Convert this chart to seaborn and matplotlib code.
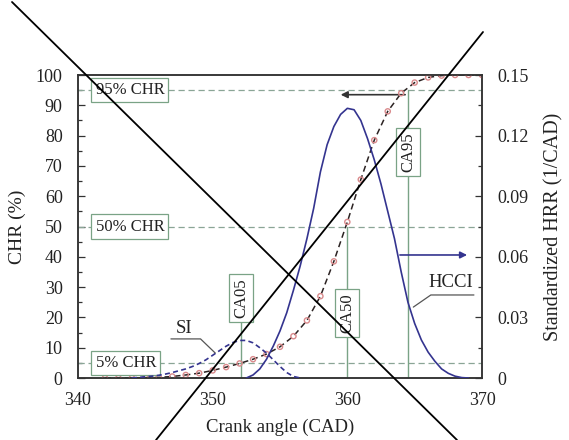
import matplotlib
matplotlib.use("Agg")
import matplotlib.pyplot as plt
from matplotlib.lines import Line2D
from matplotlib.ticker import MultipleLocator
import pandas as pd
import seaborn as sns

# ---------------- data ----------------
chr_angle = [342, 343, 344, 345, 346, 347, 348, 349, 350, 351, 352, 353, 354, 355,
             356, 357, 358, 359, 360, 361, 362, 363, 364, 365, 366, 367, 368, 369, 370]
chr_pct = [0, 0, 0, 0.1, 0.2, 0.5, 1.0, 1.6, 2.5, 3.6, 4.8, 6.2, 7.9, 10.3,
           13.8, 19.0, 27.0, 38.5, 51.5, 65.5, 78.5, 88.0, 94.0, 97.5, 99.2, 99.8, 100, 100, 100]

hcci_angle = [352.5, 353.0, 353.5, 354.0, 354.5, 355.0, 355.5, 356.0, 356.5, 357.0, 357.5,
              358.0, 358.5, 359.0, 359.5, 360.0, 360.5, 361.0, 361.5, 362.0, 362.5, 363.0,
              363.5, 364.0, 364.5, 365.0, 365.5, 366.0, 366.5, 367.0, 367.5, 368.0, 368.5, 369.0]
hcci_hrr = [0.0, 0.0015, 0.0045, 0.0093, 0.0158, 0.0233, 0.0323, 0.0435, 0.0555, 0.0690, 0.0840,
            0.1020, 0.1155, 0.1245, 0.1305, 0.1335, 0.1328, 0.1275, 0.1185, 0.1080, 0.0960, 0.0825,
            0.0690, 0.0525, 0.0375, 0.0270, 0.0188, 0.0128, 0.0083, 0.0045, 0.0023, 0.0009, 0.0002, 0.0]

si_angle = [344.0, 344.5, 345.0, 345.5, 346.0, 346.5, 347.0, 347.5, 348.0, 348.5, 349.0, 349.5,
            350.0, 350.5, 351.0, 351.5, 352.0, 352.5, 353.0, 353.5, 354.0, 354.5, 355.0, 355.5,
            356.0, 356.5]
si_hrr = [0.0, 0.0003, 0.0006, 0.0009, 0.00135, 0.00195, 0.0027, 0.0036, 0.0045, 0.0057, 0.0072,
          0.0090, 0.01125, 0.0135, 0.01575, 0.01755, 0.0186, 0.0186, 0.0174, 0.0150, 0.0123,
          0.0090, 0.0057, 0.0027, 0.00075, 0.0]

chr_levels = [5, 50, 95]
chr_level_labels = ["5% CHR", "50% CHR", "95% CHR"]
ca_values = [352.1, 360.0, 364.5]
ca_labels = ["CA05", "CA50", "CA95"]

x_ticks = [340, 350, 360, 370]
y_ticks = [0, 10, 20, 30, 40, 50, 60, 70, 80, 90, 100]
y2_ticks = [0, 0.03, 0.06, 0.09, 0.12, 0.15]
y2_tick_labels = ["0", "0.03", "0.06", "0.09", "0.12", "0.15"]

# ---------------- style ----------------
sns.set_theme(style="white")
plt.rcParams["font.family"] = ["Liberation Serif", "DejaVu Serif"]
plt.rcParams["mathtext.fontset"] = "stix"

navy = "#34348f"
guide = "#8aa596"
frame = "#333333"
txt = "#222222"

fig = plt.figure(figsize=(5.69, 4.40), dpi=100)
ax = fig.add_axes([78 / 569, 1 - 378 / 440, (482 - 78) / 569, (378 - 75) / 440])
ax2 = ax.twinx()

df_chr = pd.DataFrame({"ca": chr_angle, "chr": chr_pct})
df_hcci = pd.DataFrame({"ca": hcci_angle, "hrr": hcci_hrr})
df_si = pd.DataFrame({"ca": si_angle, "hrr": si_hrr})

# guide lines
for lvl in chr_levels:
    ax.axhline(lvl, color=guide, lw=0.9, ls=(0, (5, 3)), zorder=1)

box_center_y = [26.4, 21.5, 74.6]
for ca, lvl, lab, yc in zip(ca_values, chr_levels, ca_labels, box_center_y):
    ax.plot([ca, ca], [0, max(lvl, yc)], color="#7aa386", lw=1.0, zorder=1.5)
    ax.text(ca, yc, lab, rotation=90, ha="center", va="center", fontsize=12, color=txt,
            zorder=4,
            bbox=dict(boxstyle="square,pad=0.25", fc="white", ec="#7aa386", lw=0.9))

for lvl, lab in zip(chr_levels, chr_level_labels):
    ax.text(341.3, lvl, lab, ha="left", va="center", fontsize=12, color=txt, zorder=4,
            bbox=dict(boxstyle="square,pad=0.25", fc="white", ec="#7aa386", lw=0.9))

# CHR curve
sns.lineplot(data=df_chr, x="ca", y="chr", ax=ax, color="#2b2222", lw=1.1,
             linestyle=(0, (4, 2.5)), zorder=3)
ax.scatter(df_chr["ca"], df_chr["chr"], s=14, facecolors="none", edgecolors="#d98a8c",
           linewidths=1.0, zorder=3.5)

# HRR curves
sns.lineplot(data=df_hcci, x="ca", y="hrr", ax=ax2, color=navy, lw=1.2, zorder=3)
sns.lineplot(data=df_si, x="ca", y="hrr", ax=ax2, color=navy, lw=1.2,
             linestyle=(0, (3, 2)), zorder=3)

# arrows
ax.annotate("", xy=(359.3, 93.5), xytext=(364.5, 93.5),
            arrowprops=dict(arrowstyle="-|>", color="#333333", lw=1.2, mutation_scale=10))
ax.annotate("", xy=(369.1, 40.6), xytext=(363.7, 40.6),
            arrowprops=dict(arrowstyle="-|>", color=navy, lw=1.2, mutation_scale=10))

# curve labels
ax.plot([346.9, 349.1, 350.2], [12.9, 12.9, 8.2], color="#555555", lw=0.9, zorder=3)
ax.text(347.9, 16.5, "SI", ha="center", va="center", fontsize=13.5, color=txt)
ax.plot([369.4, 366.2, 364.9], [27.4, 27.4, 23.4], color="#555555", lw=0.9, zorder=3)
ax.text(367.7, 31.5, "HCCI", ha="center", va="center", fontsize=13.5, color=txt)

# axes
ax.set_xlim(340, 370)
ax.set_ylim(0, 100)
ax2.set_ylim(0, 0.15)
ax.set_xticks(x_ticks)
ax.set_yticks(y_ticks)
ax2.set_yticks(y2_ticks)
ax2.set_yticklabels(y2_tick_labels)
ax.xaxis.set_minor_locator(MultipleLocator(5))
ax.yaxis.set_minor_locator(MultipleLocator(5))
ax2.yaxis.set_minor_locator(MultipleLocator(0.015))
ax.set_xlabel("Crank angle (CAD)", fontsize=13.5, color=txt, labelpad=7)
ax.set_ylabel("CHR (%)", fontsize=14, color=txt, labelpad=7)
ax2.set_ylabel("Standardized HRR (1/CAD)", fontsize=14.5, color=txt, labelpad=11)

for a in (ax, ax2):
    a.tick_params(which="both", direction="in", colors=frame, labelcolor=txt,
                  labelsize=13, width=0.9)
    a.tick_params(which="major", length=5)
    a.tick_params(which="minor", length=3)
    for s in a.spines.values():
        s.set_color(frame)
        s.set_linewidth(1.1)
ax.tick_params(axis="x", pad=10)
ax.tick_params(axis="y", pad=11, right=False, which="both")
ax2.tick_params(axis="y", pad=11)
ax.tick_params(axis="x", top=False, which="both")

# the crossing lines drawn over the whole picture
fig.add_artist(Line2D([12 / 569, 457 / 569], [1 - 2 / 440, 0.0], transform=fig.transFigure,
                      color="black", lw=1.3))
fig.add_artist(Line2D([483 / 569, 156 / 569], [1 - 32 / 440, 0.0], transform=fig.transFigure,
                      color="black", lw=1.3))

fig.savefig("out.png", dpi=100)
